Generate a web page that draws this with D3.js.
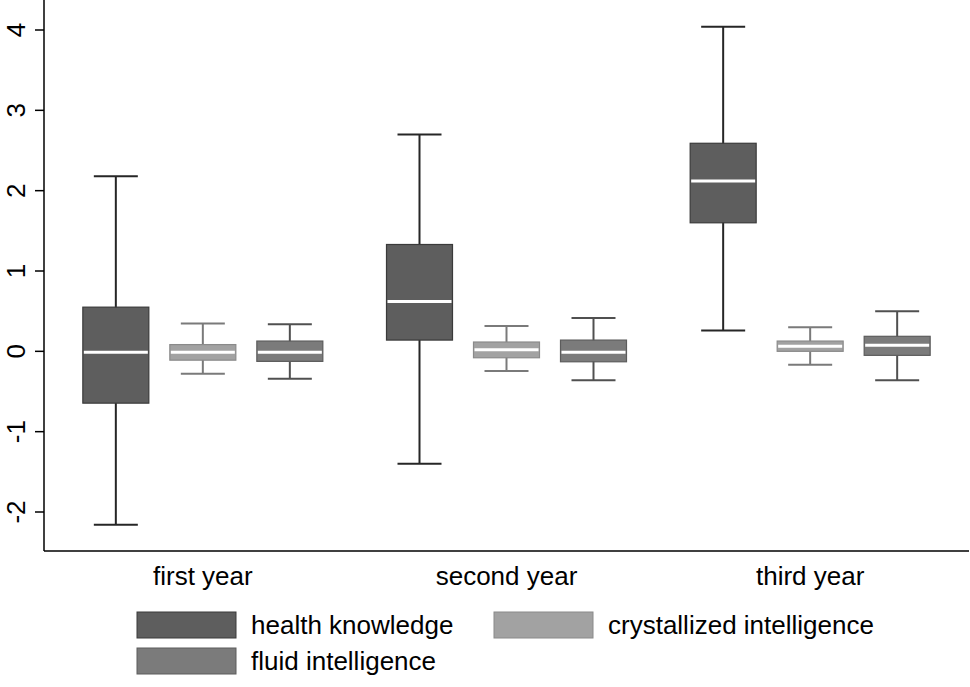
<!DOCTYPE html>
<html>
<head>
<meta charset="utf-8">
<script src="https://cdn.jsdelivr.net/npm/d3@7"></script>
<style>
  body { margin: 0; background: #fff; }
  text { font-family: "Liberation Sans", Arial, sans-serif; fill: #000; }
</style>
</head>
<body>
<svg id="chart" width="970" height="687"></svg>
<script>
// years on the x axis, three measures per year
const years = ['first year', 'second year', 'third year'];
const series = ['health knowledge', 'crystallized intelligence', 'fluid intelligence'];

// box stats per year: [lowWhisker, q1, median, q3, highWhisker]
const healthKnowledge = [
  [-2.16, -0.645, -0.01, 0.55, 2.18],
  [-1.40, 0.14, 0.62, 1.33, 2.70],
  [0.26, 1.60, 2.12, 2.59, 4.04]
];
const crystallizedIntelligence = [
  [-0.28, -0.11, -0.01, 0.084, 0.345],
  [-0.245, -0.08, 0.02, 0.116, 0.315],
  [-0.166, 0.0, 0.062, 0.128, 0.30]
];
const fluidIntelligence = [
  [-0.34, -0.125, -0.01, 0.128, 0.337],
  [-0.36, -0.13, -0.01, 0.14, 0.415],
  [-0.36, -0.05, 0.075, 0.187, 0.50]
];
const yTicks = [-2, -1, 0, 1, 2, 3, 4];

const stats = {
  'health knowledge': healthKnowledge,
  'crystallized intelligence': crystallizedIntelligence,
  'fluid intelligence': fluidIntelligence
};
const look = {
  'health knowledge': {fill: '#5e5e5e', stroke: '#3a3a3a', whisker: '#262626'},
  'crystallized intelligence': {fill: '#a2a2a2', stroke: '#8a8a8a', whisker: '#7a7a7a'},
  'fluid intelligence': {fill: '#7b7b7b', stroke: '#5c5c5c', whisker: '#505050'}
};

const svg = d3.select('#chart');
const plotL = 44, plotR = 969, plotT = 0, plotB = 551;
const fontSize = 26;

const x = d3.scaleBand().domain(years).range([51, 962]);
const sub = d3.scalePoint().domain(series).range([-87, 87]);
const y = d3.scaleLinear().domain([-2, 4]).range([512, 30]);
const boxW = 66, capW = 44;

// axes
svg.append('line').attr('x1', plotL).attr('x2', plotL).attr('y1', plotT).attr('y2', plotB)
  .attr('stroke', '#000').attr('stroke-width', 1.5);
svg.append('line').attr('x1', plotL).attr('x2', plotR).attr('y1', plotB).attr('y2', plotB)
  .attr('stroke', '#000').attr('stroke-width', 1.5);

const yAxis = svg.append('g');
yTicks.forEach(t => {
  yAxis.append('line').attr('x1', plotL - 9).attr('x2', plotL).attr('y1', y(t)).attr('y2', y(t))
    .attr('stroke', '#000').attr('stroke-width', 1.5);
  yAxis.append('text')
    .attr('transform', `translate(${16},${y(t)}) rotate(-90)`)
    .attr('text-anchor', 'middle').attr('dy', '0.36em')
    .attr('font-size', fontSize).text(t);
});

years.forEach(yr => {
  svg.append('text').attr('x', x(yr) + x.bandwidth() / 2).attr('y', 585)
    .attr('text-anchor', 'middle').attr('font-size', fontSize).text(yr);
});

// boxes
years.forEach((yr, i) => {
  series.forEach(s => {
    const [lo, q1, med, q3, hi] = stats[s][i];
    const cx = x(yr) + x.bandwidth() / 2 + sub(s);
    const c = look[s];
    const g = svg.append('g');
    g.append('line').attr('x1', cx).attr('x2', cx).attr('y1', y(hi)).attr('y2', y(lo))
      .attr('stroke', c.whisker).attr('stroke-width', 2);
    [lo, hi].forEach(v => g.append('line')
      .attr('x1', cx - capW / 2).attr('x2', cx + capW / 2).attr('y1', y(v)).attr('y2', y(v))
      .attr('stroke', c.whisker).attr('stroke-width', 2));
    g.append('rect').attr('x', cx - boxW / 2).attr('width', boxW)
      .attr('y', y(q3)).attr('height', y(q1) - y(q3))
      .attr('fill', c.fill).attr('stroke', c.stroke).attr('stroke-width', 1.2);
    g.append('line').attr('x1', cx - boxW / 2 + 1).attr('x2', cx + boxW / 2 - 1)
      .attr('y1', y(med)).attr('y2', y(med))
      .attr('stroke', '#fff').attr('stroke-width', 3);
  });
});

// legend
const legendPos = {
  'health knowledge': [137, 612],
  'crystallized intelligence': [494, 612],
  'fluid intelligence': [137, 648]
};
series.forEach(s => {
  const [lx, ly] = legendPos[s];
  svg.append('rect').attr('x', lx).attr('y', ly).attr('width', 99).attr('height', 26)
    .attr('fill', look[s].fill).attr('stroke', look[s].stroke).attr('stroke-width', 1);
  svg.append('text').attr('x', lx + 114).attr('y', ly + 13).attr('dy', '0.36em')
    .attr('font-size', fontSize).text(s);
});
</script>
</body>
</html>
